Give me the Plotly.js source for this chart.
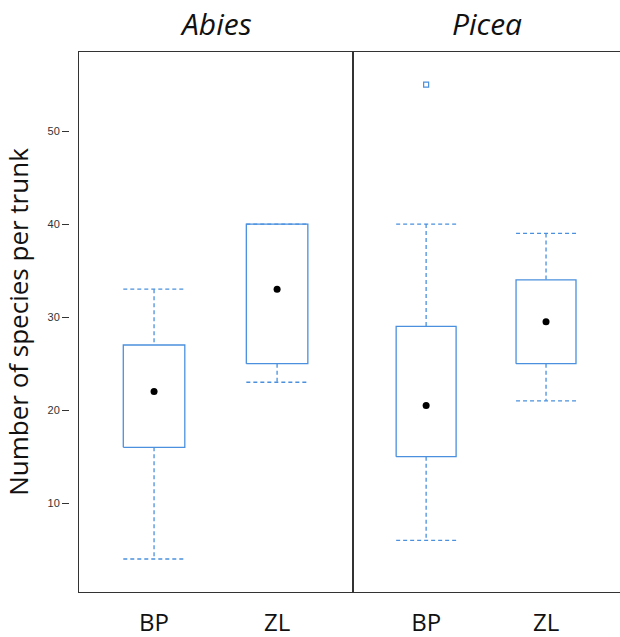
<!DOCTYPE html>
<html>
<head>
<meta charset="utf-8">
<script src="https://cdn.plot.ly/plotly-3.0.1.min.js"></script>
<style>html,body{margin:0;padding:0;background:#fff;}#chart{width:620px;height:637px;}</style>
</head>
<body>
<div id="chart"></div>
<script>
// ---- data ----
const panels = ["Abies", "Picea"];
const categories = ["BP", "ZL"];
// per panel, per category
const lowerWhisker = [[4, 23], [6, 21]];
const q1Values     = [[16, 25], [15, 25]];
const medianValues = [[22, 33], [20.5, 29.5]];
const q3Values     = [[27, 40], [29, 34]];
const upperWhisker = [[33, 40], [40, 39]];
const outliers     = [[[], []], [[55], []]];
const yTicks = [10, 20, 30, 40, 50];

// ---- style ----
const boxColor = "rgb(74,144,222)";
const halfW = 0.25;
const traces = [];
panels.forEach((p, pi) => {
  const xa = pi === 0 ? "x" : "x2";
  const ya = pi === 0 ? "y" : "y2";
  categories.forEach((c, ci) => {
    const lo = lowerWhisker[pi][ci], q1 = q1Values[pi][ci], md = medianValues[pi][ci],
          q3 = q3Values[pi][ci], hi = upperWhisker[pi][ci];
    traces.push({
      type: "scatter", mode: "lines", xaxis: xa, yaxis: ya, hoverinfo: "skip",
      x: [ci - halfW, ci + halfW, null, ci, ci, null, ci, ci, null, ci - halfW, ci + halfW],
      y: [hi, hi, null, hi, q3, null, q1, lo, null, lo, lo],
      line: {color: boxColor, width: 1.3, dash: "4px,3px"}
    });
    traces.push({
      type: "scatter", mode: "lines", xaxis: xa, yaxis: ya,
      x: [ci - halfW, ci + halfW, ci + halfW, ci - halfW, ci - halfW],
      y: [q1, q1, q3, q3, q1],
      line: {color: boxColor, width: 1.3}
    });
    traces.push({
      type: "scatter", mode: "markers", xaxis: xa, yaxis: ya,
      x: [ci], y: [md],
      marker: {color: "#000", size: 7}
    });
    if (outliers[pi][ci].length) {
      traces.push({
        type: "scatter", mode: "markers", xaxis: xa, yaxis: ya,
        x: outliers[pi][ci].map(() => ci), y: outliers[pi][ci],
        marker: {color: boxColor, size: 5, symbol: "square-open", line: {width: 1.2}}
      });
    }
  });
});

const W = 551; // plot width in px (paper)
const d0 = 10 / W, split = 284 / W;
const yRange = [0.45, 58.5];
const xTickFont = {family: "Open Sans, sans-serif", size: 24, color: "#111"};
const xCommon = {
  range: [-0.61, 1.617], tickvals: [0, 1], ticktext: categories,
  showgrid: false, zeroline: false, showline: true, mirror: true,
  linecolor: "#333", linewidth: 1.2, ticks: "", tickfont: xTickFont,
  ticklabelstandoff: 9
};
const layout = {
  width: 620, height: 637,
  margin: {l: 69, r: 0, t: 52, b: 45},
  paper_bgcolor: "#fff", plot_bgcolor: "#fff",
  showlegend: false,
  xaxis: Object.assign({}, xCommon, {domain: [d0, split], anchor: "y"}),
  xaxis2: Object.assign({}, xCommon, {domain: [split, 1], anchor: "y2"}),
  yaxis: {range: yRange, domain: [0, 1], anchor: "x", showline: true, mirror: true,
          linecolor: "#333", linewidth: 1.2, showgrid: false, zeroline: false,
          ticks: "", showticklabels: false},
  yaxis2: {range: yRange, domain: [0, 1], anchor: "x2", showline: true,
           linecolor: "#333", linewidth: 1.2, showgrid: false, zeroline: false,
           ticks: "", showticklabels: false},
  yaxis3: {range: yRange, overlaying: "y", anchor: "free", position: 0, side: "left",
           showline: false, showgrid: false, zeroline: false,
           ticks: "outside", ticklen: 7, tickwidth: 1, tickcolor: "#333",
           tickvals: yTicks, tickfont: {family: "Liberation Sans, Arial, sans-serif", size: 11, color: "#333"},
           title: {text: "Number of species per trunk", standoff: 10,
                   font: {family: "Open Sans, sans-serif", size: 26, color: "#111"}}},
  annotations: panels.map((p, pi) => ({
    text: p, xref: pi === 0 ? "x domain" : "x2 domain", yref: "paper",
    x: 0.5, y: 1, yshift: 6, xanchor: "center", yanchor: "bottom", showarrow: false,
    font: {family: "Open Sans, sans-serif", size: 30, color: "#111", style: "italic"}
  }))
};
// anchor trace for the free y-axis
traces.push({type: "scatter", mode: "markers", x: [0], y: [null], xaxis: "x", yaxis: "y3",
             hoverinfo: "skip", marker: {opacity: 0}});
Plotly.newPlot("chart", traces, layout, {displayModeBar: false, staticPlot: true});
</script>
</body>
</html>
